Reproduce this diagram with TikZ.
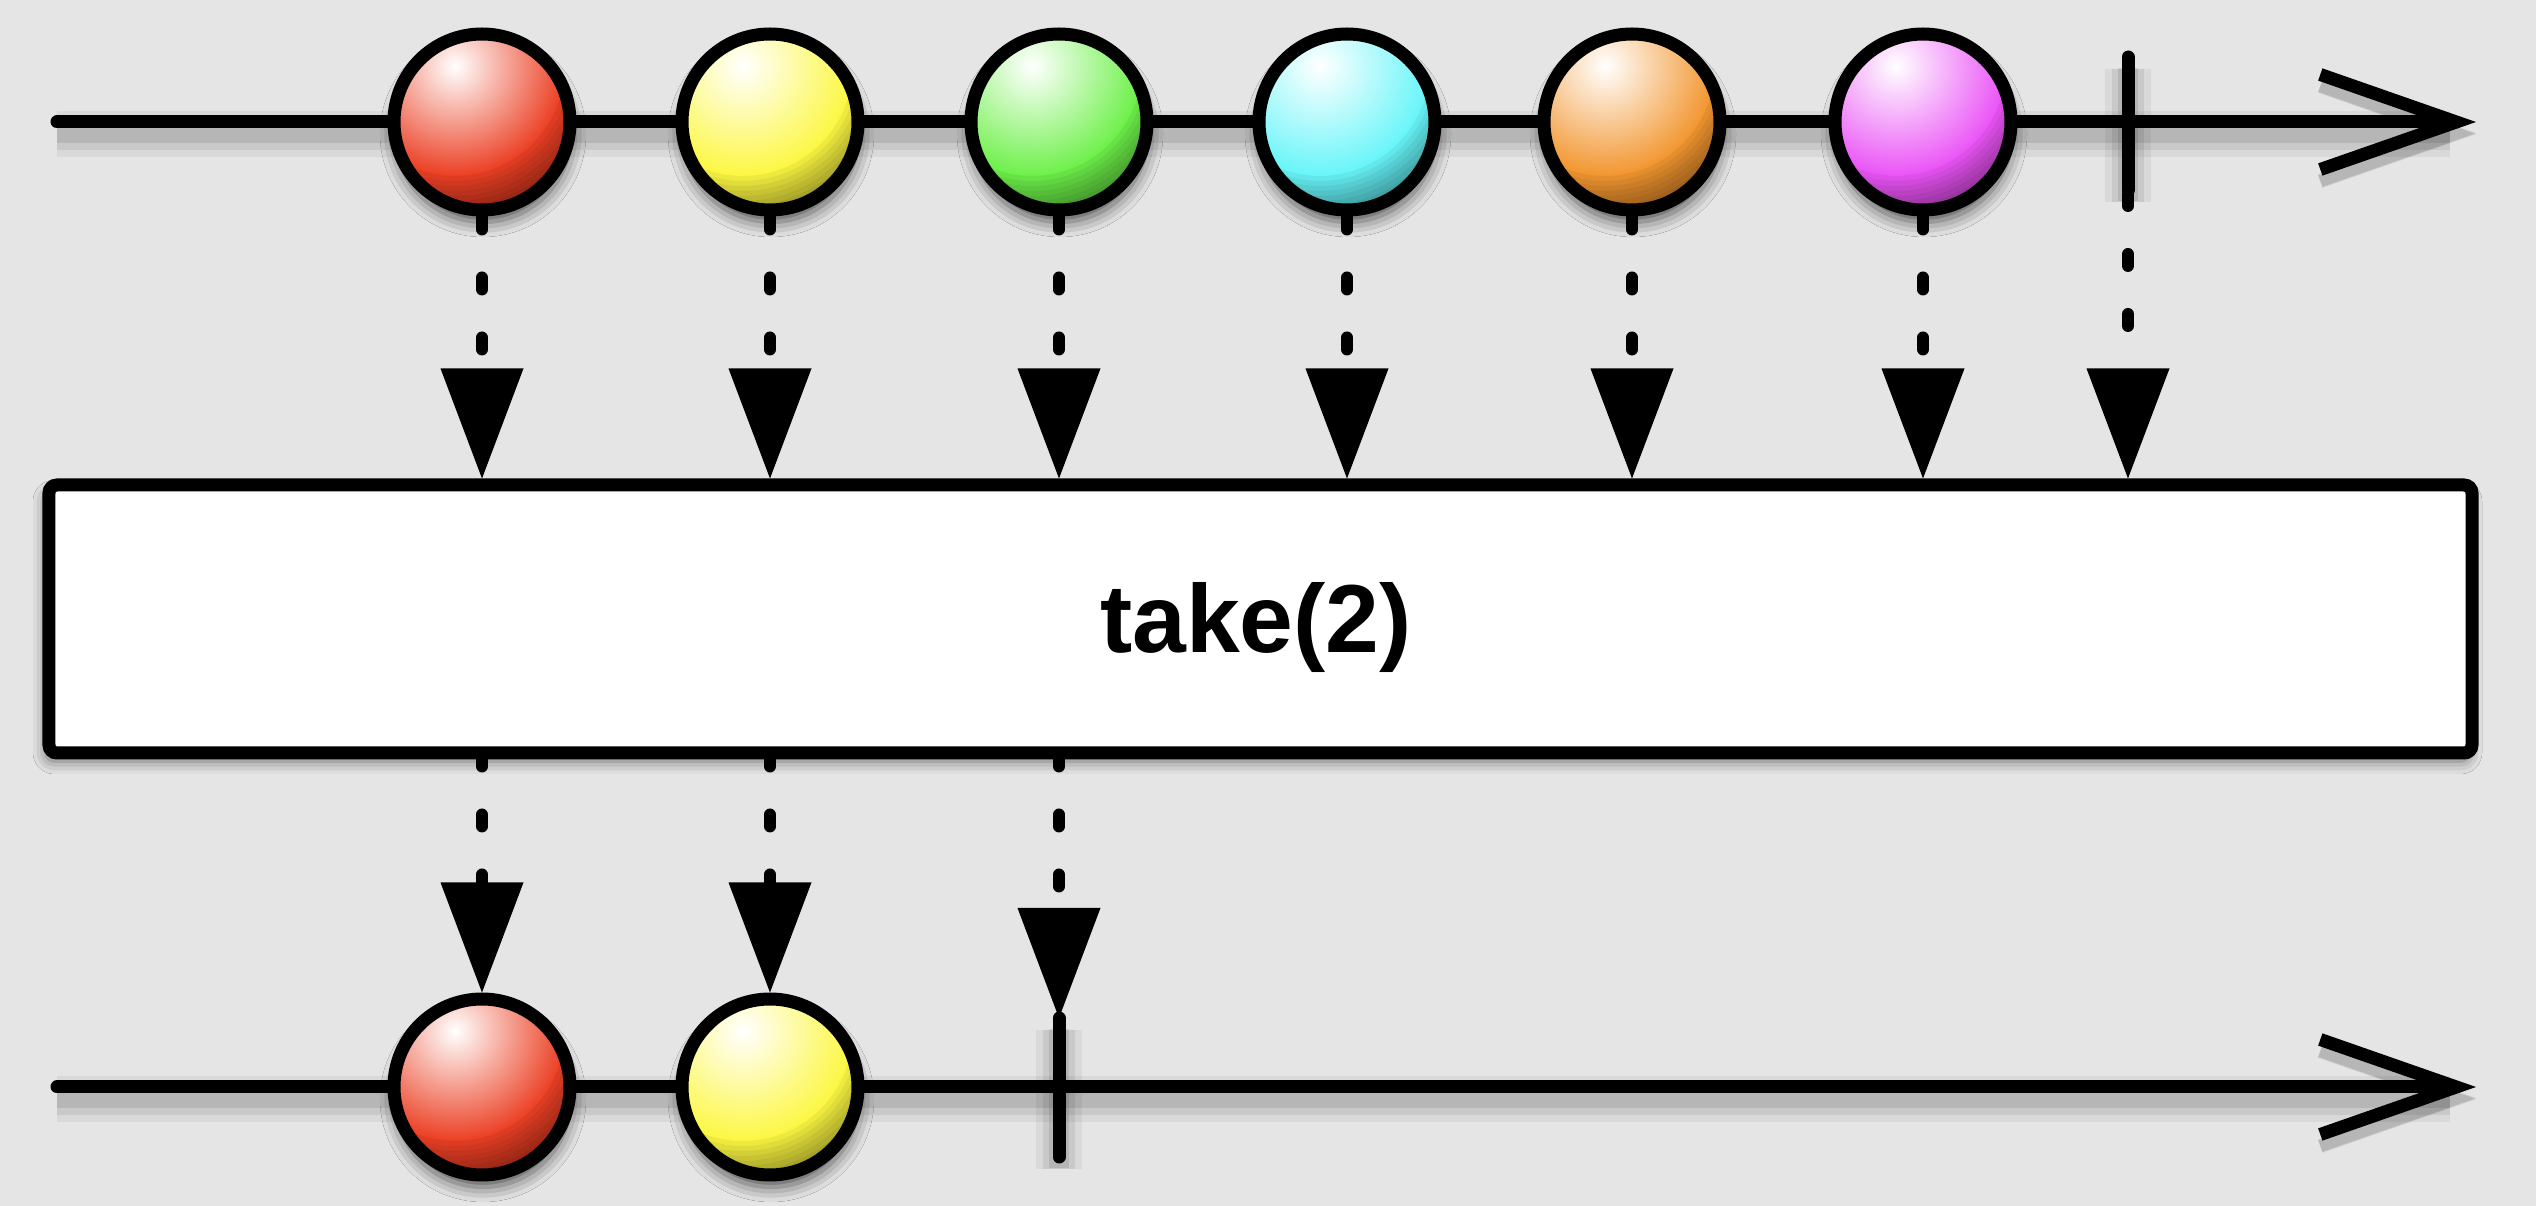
\documentclass[tikz,border=0pt]{standalone}
\usepackage{fontspec}
\setmainfont{Liberation Sans}
\usetikzlibrary{arrows.meta,shadows.blur,calc}
\definecolor{bgc}{RGB}{229,229,229}
\definecolor{mred}{RGB}{235,64,36}
\definecolor{myellow}{RGB}{252,247,66}
\definecolor{mgreen}{RGB}{110,240,74}
\definecolor{mcyan}{RGB}{104,245,249}
\definecolor{morange}{RGB}{242,150,48}
\definecolor{mmagenta}{RGB}{234,84,246}
\tikzset{
  lshadow/.style={
    preaction={draw=black, draw opacity=0.05, line width=0.46cm, transform canvas={yshift=-0.12cm}},
    preaction={draw=black, draw opacity=0.07, line width=0.32cm, transform canvas={yshift=-0.12cm}},
    preaction={draw=black, draw opacity=0.09, line width=0.2cm, transform canvas={yshift=-0.11cm}}},
  tline/.style={lshadow, line width=0.13cm, line cap=round,
    -{Straight Barb[length=1.36cm, width=0.95cm, sharp, line width=0.13cm]}},
  tickline/.style={lshadow, line width=0.13cm, line cap=round},
  conn/.style={line width=0.12cm, line cap=round, dash pattern=on 0.12cm off 0.48cm,
    -{Triangle[length=1.1cm, width=0.83cm, line width=0pt]}},
  marble/.style={circle, draw=black, line width=0.13cm, minimum size=1.76cm, inner sep=0pt,
    fill=#1,
    blur shadow={shadow xshift=0.01cm, shadow yshift=-0.12cm, shadow blur radius=0.15cm, shadow opacity=65},
    path picture={
      \coordinate (hl) at ($(path picture bounding box.center)+(-0.27,0.56)$);
      \shade[inner color=white, outer color=#1] (hl) circle (1.1cm);
      \foreach \d in {1.10,1.15,1.20,1.25,1.30,1.35,1.40,1.45,1.50}
        \fill[black, fill opacity=0.055, even odd rule]
          ($(hl)+(-3,-3)$) rectangle ($(hl)+(3,3)$) (hl) circle (\d cm);
    }},
  opbox/.style={draw=black, fill=white, line width=0.13cm, rounded corners=0.08cm,
    minimum width=24.23cm, minimum height=2.68cm, inner sep=0pt,
    blur shadow={shadow xshift=-0.03cm, shadow yshift=-0.08cm, shadow blur radius=0.13cm, shadow opacity=55}},
  optext/.style={font=\fontsize{27.5}{33}\selectfont\bfseries, inner sep=0pt}
}
\begin{document}
\begin{tikzpicture}
\fill[bgc] (0,0) rectangle (25.36,12.06);
\useasboundingbox (0,0) rectangle (25.36,12.06);

% timelines
\coordinate (ts) at (0.57,10.84);
\coordinate (te) at (24.76,10.84);
\draw[tline] (ts) -- (te);
\coordinate (bs) at (0.57,1.19);
\coordinate (be) at (24.76,1.19);
\draw[tline] (bs) -- (be);

% terminators
\coordinate (tk1a) at (21.28,11.49);
\coordinate (tk1b) at (21.28,10.16);
\draw[tickline] (tk1a) -- (tk1b);
\coordinate (tk2a) at (10.59,1.88);
\coordinate (tk2b) at (10.59,0.49);
\draw[tickline] (tk2a) -- (tk2b);

% operator box
\node[opbox] (op) at (12.605,5.87) {};
\node[optext, anchor=base] (opt) at (12.56,5.53) {take(2)};

% marbles
\node[marble=mred] (t1) at (4.82,10.84) {};
\node[marble=myellow] (t2) at (7.70,10.84) {};
\node[marble=mgreen] (t3) at (10.59,10.84) {};
\node[marble=mcyan] (t4) at (13.47,10.84) {};
\node[marble=morange] (t5) at (16.32,10.84) {};
\node[marble=mmagenta] (t6) at (19.23,10.84) {};
\node[marble=mred] (b1) at (4.82,1.19) {};
\node[marble=myellow] (b2) at (7.70,1.19) {};

% connectors top
\foreach \m in {t1,t2,t3,t4,t5,t6}
  \draw[conn, dash phase=0.59cm] (\m.south) -- (\m.south |- op.north);
\draw[conn, dash phase=0.56cm] (tk1b) -- (tk1b |- op.north);

% connectors bottom
\draw[conn, dash phase=0.05cm] (op.south -| b1) -- (b1.north);
\draw[conn, dash phase=0.05cm] (op.south -| b2) -- (b2.north);
\draw[conn, dash phase=0.05cm] (op.south -| tk2a) -- (tk2a);
\end{tikzpicture}
\end{document}
